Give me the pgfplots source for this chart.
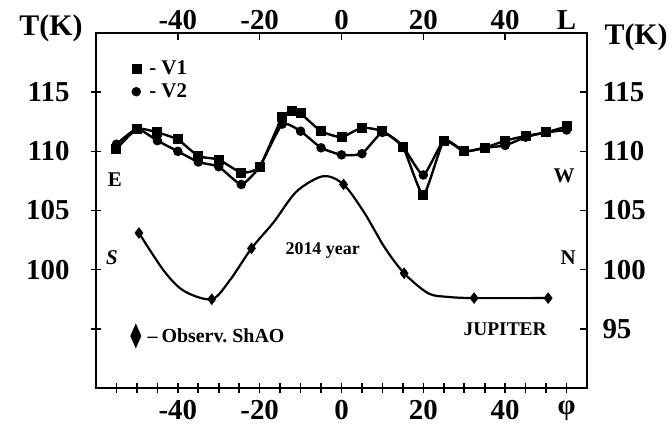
\documentclass[border=0pt]{standalone}
\usepackage{pgfplots}
\pgfplotsset{compat=1.18}
\usepackage{fontspec}
\setmainfont{Liberation Serif}
\begin{document}
\begin{tikzpicture}
\useasboundingbox (-96bp,-46bp) rectangle (576bp,388bp);
\pgfplotsset{base/.style={at={(0,0)},anchor=south west, scale only axis,
  width=491bp, height=355bp, xmin=-60, xmax=60, ymin=90, ymax=120,
  /pgf/number format/assume math mode=true,
  ticklabel style={font=\fontsize{29}{29}\selectfont\bfseries},
  axis line style={line width=2.6bp},
  tick style={line width=1.6bp, black},
  clip=false}}
\begin{axis}[base,
  xtick pos=left, ytick pos=left, tick align=center, major tick length=10bp,
  xtick={-55,-50,...,55},
  xticklabels={,,,-40,,,,-20,,,,0,,,,20,,,,40,,,φ},
  xticklabel style={yshift=-4bp},
  ytick={95,100,105,110,115},
  yticklabels={,100,105,110,115},
  yticklabel style={xshift=-18bp},
  legend style={at={(axis cs:-51.3,117.8)}, anchor=north west, draw=none, fill=none,
    font=\fontsize{21}{21}\selectfont\bfseries, row sep=5bp, inner sep=0pt,
    nodes={inner sep=1.5bp}},
  legend cell align=left]
\addlegendimage{only marks, mark=square*, mark size=4.5bp}
\addlegendentry{\hspace*{7bp}- V1}
\addlegendimage{only marks, mark=*, mark size=4.5bp}
\addlegendentry{\hspace*{7bp}- V2}
% V1 squares
\addplot[forget plot, black, line width=2.4bp, smooth, tension=0.3, mark=square*, mark size=3.8bp] coordinates {
(-55,110.2) (-50,111.9) (-45,111.6) (-40,111.0) (-35,109.6) (-30,109.3) (-24.5,108.2) (-20,108.7)
(-14.5,112.9) (-12,113.4) (-10,113.2) (-5,111.7) (0,111.2) (5,112.0) (10,111.7) (15,110.4)
(20,106.3) (25,110.9) (30,110.0) (35,110.3) (40,110.9) (45,111.3) (50,111.6) (55,112.1)};
% V2 circles
\addplot[forget plot, black, line width=2.4bp, smooth, tension=0.3, mark=*, mark size=3.5bp] coordinates {
(-55,110.6) (-50,111.9) (-45,110.9) (-40,110.0) (-35,109.1) (-30,108.7) (-24.5,107.2) (-20,108.7)
(-14.5,112.3) (-10,111.7) (-5,110.3) (0,109.7) (5,109.8) (10,111.6) (15,110.4)
(20,108.0) (25,110.9) (30,110.0) (35,110.3) (40,110.5) (45,111.2) (50,111.6) (55,111.8)};
% ShAO curve
\addplot[forget plot, black, line width=2.2bp, smooth, tension=0.5] coordinates {
(-49.5,103.1) (-43.4,99.9) (-38.5,98.2) (-31.7,97.5) (-27.3,99.1) (-22,101.8) (-16.6,104.0)
(-11,106.6) (-4.5,107.9) (0.5,107.2) (5.6,104.8) (10.5,101.9) (15.3,99.7) (21.2,98.0)
(26,97.7) (32.4,97.6) (50.5,97.6)};
\addplot[forget plot, only marks, black, mark=diamond*, mark size=5.5bp] coordinates {
(-49.5,103.1) (-31.7,97.5) (-22,101.8) (0.5,107.2) (15.3,99.7) (32.4,97.6) (50.5,97.6)};
\node[font=\fontsize{21}{21}\selectfont\bfseries] at (axis cs:-55.4,107.6) {E};
\node[font=\fontsize{21}{21}\selectfont\bfseries] at (axis cs:54.4,107.9) {W};
\node[font=\fontsize{21}{21}\selectfont\bfseries\itshape] at (axis cs:-56.1,101.0) {S};
\node[font=\fontsize{21}{21}\selectfont\bfseries] at (axis cs:55.4,101.0) {N};
\node[font=\fontsize{18}{18}\selectfont\bfseries] at (axis cs:-4.6,101.6) {2014 year};
\node[font=\fontsize{19.5}{19.5}\selectfont\bfseries] at (axis cs:40,95.0) {JUPITER};
\node[font=\fontsize{30}{30}\selectfont\bfseries] at (axis cs:-71,120.4) {T(K)};
\node[font=\fontsize{30}{30}\selectfont\bfseries] at (axis cs:72,119.6) {T(K)};
\end{axis}
\begin{axis}[base,
  xtick pos=right, ytick pos=right, xticklabel pos=right, yticklabel pos=right,
  tick align=inside, major tick length=7bp,
  xtick={-40,-20,0,20,40},
  xticklabels={-40,-20,0,20,40},
  extra x ticks={55}, extra x tick labels={L},
  extra x tick style={tick style={draw=none}},
  ytick={95,100,105,110,115},
  yticklabel style={xshift=12bp},
  legend style={at={(axis cs:-51.6,94.4)}, anchor=west, draw=none, fill=none,
    font=\fontsize{20}{20}\selectfont\bfseries, inner sep=0pt,
    nodes={inner sep=1.5bp}},
  legend cell align=left]
\addlegendimage{only marks, mark=diamond*, mark size=7bp, mark options={yscale=1.7}}
\addlegendentry{\hspace*{5bp}–\hspace*{4bp}Observ.\ ShAO}
\end{axis}
\end{tikzpicture}
\end{document}
